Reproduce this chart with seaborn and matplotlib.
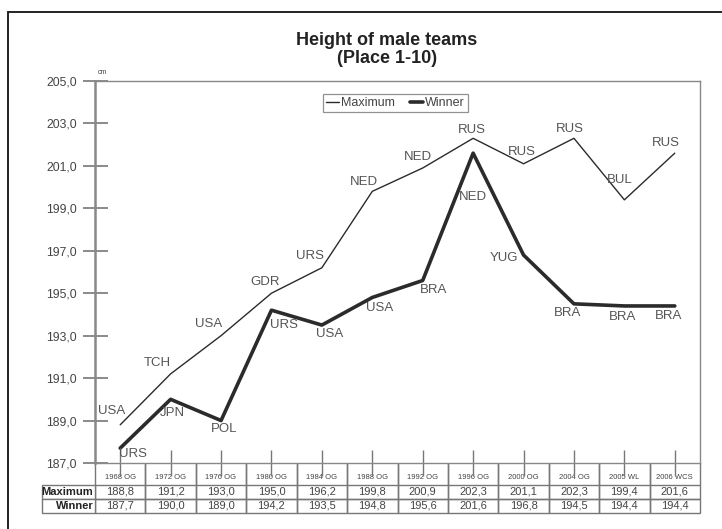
import matplotlib
matplotlib.use("Agg")
import matplotlib.pyplot as plt
import matplotlib.patches as mpatches
import seaborn as sns
import pandas as pd

# data
events = ["1968 OG", "1972 OG", "1976 OG", "1980 OG", "1984 OG", "1988 OG",
          "1992 OG", "1996 OG", "2000 OG", "2004 OG", "2005 WL", "2006 WCS"]
maximum = [188.8, 191.2, 193.0, 195.0, 196.2, 199.8, 200.9, 202.3, 201.1, 202.3, 199.4, 201.6]
winner = [187.7, 190.0, 189.0, 194.2, 193.5, 194.8, 195.6, 201.6, 196.8, 194.5, 194.4, 194.4]
max_team = ["USA", "TCH", "USA", "GDR", "URS", "NED", "NED", "RUS", "RUS", "RUS", "BUL", "RUS"]
win_team = ["URS", "JPN", "POL", "URS", "USA", "USA", "BRA", "NED", "YUG", "BRA", "BRA", "BRA"]
row_labels = ["Maximum", "Winner"]
y_ticks = [187, 189, 191, 193, 195, 197, 199, 201, 203, 205]

# label offsets in pixels (dx, dy)
max_off = [(-9, 14), (-13, 11), (-12, 12), (-6, 11), (-12, 12), (-8, 9),
           (-5, 11), (-1, 8), (-2, 12), (-4, 9), (-5, 20), (-9, 10)]
win_off = [(13, -6), (2, -14), (3, -8), (13, -15), (8, -9), (7, -11),
           (11, -10), (0, -44), (-20, -3), (-6, -9), (-2, -11), (-6, -10)]

sns.set_theme(style="white")
plt.rcParams['font.family'] = ['Liberation Sans', 'DejaVu Sans']

df = pd.DataFrame({"idx": range(len(events)), "Maximum": maximum, "Winner": winner})

fig = plt.figure(figsize=(7.22, 5.29), dpi=100)
ax = fig.add_axes([95 / 722, 1 - 463 / 529, 605 / 722, 382 / 529])

line_col = "#2b2b2b"
sns.lineplot(data=df, x="idx", y="Maximum", ax=ax, color=line_col, linewidth=1.0, label="Maximum")
sns.lineplot(data=df, x="idx", y="Winner", ax=ax, color=line_col, linewidth=2.6, label="Winner")

ax.set_xlim(-0.5, len(events) - 0.5)
ax.set_ylim(187, 205)
ax.set_yticks(y_ticks)
ax.set_yticklabels([f"{v:.1f}".replace(".", ",") for v in y_ticks], fontsize=8.8, color="#444444")
ax.set_xticks(range(len(events)))
ax.set_xticklabels([])
ax.set_xlabel("")
ax.set_ylabel("")
ax.tick_params(axis="y", direction="inout", length=18, width=1.2, color="#777777", pad=4, left=True)
ax.tick_params(axis="x", direction="inout", length=19, width=1.0, color="#777777", bottom=True)
for side in ["left", "right", "top", "bottom"]:
    ax.spines[side].set_color("#888888")
    ax.spines[side].set_linewidth(1.0)
ax.spines["left"].set_linewidth(1.8)

# country labels
for i in range(len(events)):
    ax.annotate(max_team[i], (i, maximum[i]), xytext=(max_off[i][0] * 0.72, max_off[i][1] * 0.72),
                textcoords="offset points", ha="center", va="center", fontsize=9.5, color="#555555")
    ax.annotate(win_team[i], (i, winner[i]), xytext=(win_off[i][0] * 0.72, win_off[i][1] * 0.72),
                textcoords="offset points", ha="center", va="center", fontsize=9.5, color="#555555")

leg = ax.legend(loc="upper center", bbox_to_anchor=(0.497, 0.982), ncol=2, fontsize=9,
                handlelength=1.0, handletextpad=0.2, columnspacing=1.2, borderpad=0.25,
                fancybox=False, frameon=True)
leg.get_frame().set_edgecolor("#777777")
leg.get_frame().set_linewidth(0.9)
for t in leg.get_texts():
    t.set_color("#444444")

# data table under the chart
cell_text = [[f"{v:.1f}".replace(".", ",") for v in maximum],
             [f"{v:.1f}".replace(".", ",") for v in winner]]
tbl = ax.table(cellText=cell_text, colLabels=events, cellLoc="center", colLoc="center",
               bbox=[0, -50 / 382, 1, 50 / 382])
tbl.auto_set_font_size(False)
for (r, c), cell in tbl.get_celld().items():
    cell.set_edgecolor("#777777")
    cell.set_linewidth(1.0)
    cell.set_facecolor("none")
    cell.get_text().set_color("#444444")
    if r == 0:
        cell.set_height(22)
        cell.visible_edges = "LR"
        cell.get_text().set_fontsize(5.5)
        cell.get_text().set_va("top")
    else:
        cell.set_height(14)
        cell.get_text().set_fontsize(8)

# row labels of the table
lab_tbl = ax.table(cellText=[[lab] for lab in row_labels], cellLoc="right",
                   bbox=[-53 / 605, -50 / 382, 53 / 605, 28 / 382])
lab_tbl.auto_set_font_size(False)
for (r, c), cell in lab_tbl.get_celld().items():
    cell.set_edgecolor("#777777")
    cell.set_linewidth(1.0)
    cell.PAD = 0.03
    cell.get_text().set_fontsize(8)
    cell.get_text().set_fontweight("bold")
    cell.get_text().set_color("#222222")

fig.text(387 / 722, 1 - 32 / 529, "Height of male teams\n(Place 1-10)", ha="center", va="top",
         fontsize=13, fontweight="bold", color="#222222", linespacing=1.05)
fig.text(102 / 722, 1 - 72 / 529, "cm", ha="center", va="center", fontsize=5, color="#444444")

# outer frame
fig.patches.append(mpatches.Rectangle((8 / 722, -0.05), 1.2, 1.05 - 12 / 529, transform=fig.transFigure,
                                      fill=False, edgecolor="#222222", linewidth=1.4))

fig.savefig("out.png", dpi=100)
